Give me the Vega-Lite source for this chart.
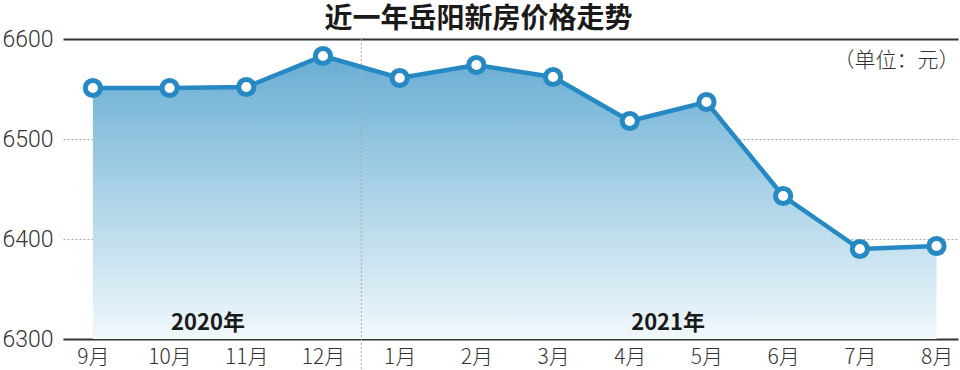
{
  "$schema": "https://vega.github.io/schema/vega-lite/v6.json",
  "width": 895,
  "height": 300,
  "autosize": "none",
  "padding": {"left": 63, "top": 39, "right": 2, "bottom": 31},
  "background": "white",
  "title": {
    "text": "近一年岳阳新房价格走势",
    "font": "Noto Sans CJK SC",
    "fontSize": 28,
    "fontWeight": "bold",
    "color": "#1a1a1a",
    "anchor": "middle",
    "dx": -32,
    "offset": -6
  },
  "datasets": {
    "prices": [
      {"m": "9月", "i": 0, "price": 6551},
      {"m": "10月", "i": 1, "price": 6551},
      {"m": "11月", "i": 2, "price": 6552},
      {"m": "12月", "i": 3, "price": 6583},
      {"m": "1月", "i": 4, "price": 6561},
      {"m": "2月", "i": 5, "price": 6574},
      {"m": "3月", "i": 6, "price": 6562},
      {"m": "4月", "i": 7, "price": 6518},
      {"m": "5月", "i": 8, "price": 6537},
      {"m": "6月", "i": 9, "price": 6443},
      {"m": "7月", "i": 10, "price": 6390},
      {"m": "8月", "i": 11, "price": 6393}
    ],
    "years": [
      {"label": "2020年", "i": 1.5, "y": 6316},
      {"label": "2021年", "i": 7.5, "y": 6316}
    ],
    "divider": [{"i": 3.5, "top": 6600, "bottom": 6268}],
    "unit": [{"label": "（单位：元）", "i": 11.3, "y": 6578}]
  },
  "layer": [
    {
      "data": {"name": "prices"},
      "mark": {
        "type": "area",
        "fill": {
          "gradient": "linear",
          "x1": 0, "y1": 0, "x2": 0, "y2": 1,
          "stops": [
            {"offset": 0, "color": "#68add3"},
            {"offset": 0.45, "color": "#a6d0e6"},
            {"offset": 1, "color": "#f1f8fc"}
          ]
        }
      },
      "encoding": {
        "x": {
          "field": "i", "type": "quantitative",
          "scale": {"domain": [-0.39, 11.28], "nice": false, "zero": false},
          "axis": {
            "values": [0,1,2,3,4,5,6,7,8,9,10,11],
            "labelExpr": "['9月','10月','11月','12月','1月','2月','3月','4月','5月','6月','7月','8月'][datum.value]",
            "title": null,
            "grid": false,
            "ticks": false,
            "domainColor": "#333333",
            "domainWidth": 2,
            "labelFont": "Noto Sans CJK SC",
            "labelFontWeight": 300,
            "labelFontSize": 21,
            "labelColor": "#333333",
            "labelPadding": 7,
            "labelFlush": false
          }
        },
        "y": {
          "field": "price", "type": "quantitative",
          "scale": {"domain": [6300, 6600], "nice": false, "zero": false},
          "axis": {
            "values": [6300, 6400, 6500, 6600],
            "format": "d",
            "title": null,
            "domain": false,
            "ticks": false,
            "grid": true,
            "gridColor": {"condition": {"test": "datum.value == 6600", "value": "#333333"}, "value": "#aaaaaa"},
            "gridDash": {"condition": {"test": "datum.value == 6600", "value": []}, "value": [2, 2]},
            "gridWidth": {"condition": {"test": "datum.value == 6600", "value": 2}, "value": 1},
            "labelFont": "Roboto",
            "labelFontWeight": 300,
            "labelFontSize": 23,
            "labelColor": "#333333",
            "labelPadding": 10
          }
        },
        "y2": {"datum": 6300}
      }
    },
    {
      "data": {"name": "divider"},
      "mark": {"type": "rule", "color": "#aaaaaa", "strokeDash": [2, 2], "strokeWidth": 1},
      "encoding": {
        "x": {"field": "i", "type": "quantitative"},
        "y": {"field": "top", "type": "quantitative"},
        "y2": {"field": "bottom"}
      }
    },
    {
      "data": {"name": "prices"},
      "mark": {"type": "line", "color": "#2789c4", "strokeWidth": 4.5},
      "encoding": {
        "x": {"field": "i", "type": "quantitative"},
        "y": {"field": "price", "type": "quantitative"}
      }
    },
    {
      "data": {"name": "prices"},
      "mark": {"type": "point", "filled": false, "fill": "white", "fillOpacity": 1, "stroke": "#2789c4", "strokeWidth": 5, "size": 230, "opacity": 1},
      "encoding": {
        "x": {"field": "i", "type": "quantitative"},
        "y": {"field": "price", "type": "quantitative"}
      }
    },
    {
      "data": {"name": "years"},
      "mark": {"type": "text", "font": "Noto Sans CJK SC", "fontWeight": "bold", "fontSize": 22, "color": "#1a1a1a", "baseline": "middle", "align": "center"},
      "encoding": {
        "x": {"field": "i", "type": "quantitative"},
        "y": {"field": "y", "type": "quantitative"},
        "text": {"field": "label"}
      }
    },
    {
      "data": {"name": "unit"},
      "mark": {"type": "text", "font": "Noto Sans CJK SC", "fontWeight": 300, "fontSize": 21, "color": "#333333", "baseline": "middle", "align": "right"},
      "encoding": {
        "x": {"field": "i", "type": "quantitative"},
        "y": {"field": "y", "type": "quantitative"},
        "text": {"field": "label"}
      }
    }
  ],
  "config": {"view": {"stroke": null}}
}
